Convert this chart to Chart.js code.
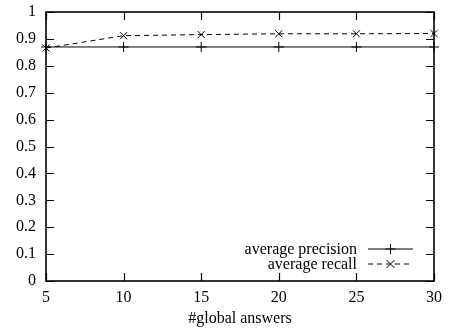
<!DOCTYPE html>
<html>
<head>
<meta charset="utf-8">
<script src="https://cdn.jsdelivr.net/npm/chart.js@4/dist/chart.umd.min.js"></script>
<style>
  html, body { margin: 0; padding: 0; background: #fff; }
  #wrap { width: 451px; height: 334px; }
</style>
</head>
<body>
<div id="wrap"><canvas id="c" width="451" height="334"></canvas></div>
<script>
// Number of global answers considered
const globalAnswers = [5, 10, 15, 20, 25, 30];
// Averages measured for each answer count
const avgPrecision = [0.870, 0.870, 0.870, 0.870, 0.870, 0.870];
const avgRecall = [0.866, 0.912, 0.916, 0.919, 0.919, 0.920];
const seriesNames = ['average precision', 'average recall'];
const xTicks = [5, 10, 15, 20, 25, 30];
const yTicks = [0, 0.1, 0.2, 0.3, 0.4, 0.5, 0.6, 0.7, 0.8, 0.9, 1];
const xTitle = '#global answers';

const FONT = '"Liberation Serif", "DejaVu Serif", serif';
const FS = 16;
Chart.defaults.font.family = FONT;
Chart.defaults.font.size = FS;
Chart.defaults.color = '#000';

// Frame, inward tick marks on all four sides, and a key in the lower right
const framePlugin = {
  id: 'frame',
  afterDatasetsDraw(chart) {
    const { ctx, chartArea: a, scales: { x, y } } = chart;
    const len = 8;
    ctx.save();
    ctx.strokeStyle = '#000';
    ctx.lineWidth = 1.2;
    ctx.beginPath();
    xTicks.forEach(v => {
      const px = Math.round(x.getPixelForValue(v)) + 0.5;
      ctx.moveTo(px, a.bottom); ctx.lineTo(px, a.bottom - len);
      ctx.moveTo(px, a.top); ctx.lineTo(px, a.top + len);
    });
    yTicks.forEach(v => {
      const py = Math.round(y.getPixelForValue(v)) + 0.5;
      ctx.moveTo(a.left, py); ctx.lineTo(a.left + len, py);
      ctx.moveTo(a.right, py); ctx.lineTo(a.right - len, py);
    });
    ctx.stroke();
    ctx.lineWidth = 1.6;
    ctx.strokeRect(a.left, a.top, a.right - a.left, a.bottom - a.top);

    // key
    const textRight = a.right - 77;
    const lineL = a.right - 66, lineR = a.right - 21;
    const mid = (lineL + lineR) / 2;
    const rows = [a.bottom - 32, a.bottom - 17];
    ctx.font = FS + 'px ' + FONT;
    ctx.textAlign = 'right';
    ctx.textBaseline = 'middle';
    ctx.fillStyle = '#000';
    chart.data.datasets.forEach((ds, i) => {
      const ry = rows[i];
      ctx.fillText(ds.label, textRight, ry + 1);
      ctx.lineWidth = 1;
      ctx.setLineDash(ds.borderDash || []);
      ctx.beginPath();
      ctx.moveTo(lineL, ry); ctx.lineTo(lineR, ry);
      ctx.stroke();
      ctx.setLineDash([]);
      ctx.beginPath();
      if (ds.pointStyle === 'cross') {
        ctx.moveTo(mid - 5, ry); ctx.lineTo(mid + 5, ry);
        ctx.moveTo(mid, ry - 5); ctx.lineTo(mid, ry + 5);
      } else {
        ctx.moveTo(mid - 4, ry - 4); ctx.lineTo(mid + 4, ry + 4);
        ctx.moveTo(mid - 4, ry + 4); ctx.lineTo(mid + 4, ry - 4);
      }
      ctx.stroke();
    });
    ctx.restore();
  }
};

new Chart(document.getElementById('c'), {
  type: 'line',
  data: {
    datasets: [
      {
        label: seriesNames[0],
        data: globalAnswers.map((g, i) => ({ x: g, y: avgPrecision[i] })),
        borderColor: '#000', borderWidth: 1,
        pointStyle: 'cross', pointRadius: 5, pointBorderWidth: 1,
        pointBorderColor: '#000', pointBackgroundColor: '#000',
        tension: 0, clip: false
      },
      {
        label: seriesNames[1],
        data: globalAnswers.map((g, i) => ({ x: g, y: avgRecall[i] })),
        borderColor: '#000', borderWidth: 1, borderDash: [5, 4],
        pointStyle: 'crossRot', pointRadius: 5, pointBorderWidth: 1,
        pointBorderColor: '#000', pointBackgroundColor: '#000',
        tension: 0, clip: false
      }
    ]
  },
  options: {
    responsive: false,
    animation: false,
    layout: { padding: { top: 12, right: 17, left: 0, bottom: 0 } },
    plugins: { legend: { display: false }, tooltip: { enabled: false } },
    scales: {
      x: {
        type: 'linear', min: 5, max: 30,
        afterBuildTicks: s => { s.ticks = xTicks.map(v => ({ value: v })); },
        afterFit: s => { s.height = 53; s.paddingLeft = 0; s.paddingRight = 0; },
        grid: { display: false, drawTicks: false },
        border: { display: false },
        ticks: { padding: 7, color: '#000', font: { size: FS } },
        title: { display: true, text: xTitle, color: '#000', font: { size: FS }, padding: { top: 3, bottom: 6 } }
      },
      y: {
        type: 'linear', min: 0, max: 1,
        afterBuildTicks: s => { s.ticks = yTicks.map(v => ({ value: v })); },
        afterFit: s => { s.width = 46; s.paddingTop = 0; s.paddingBottom = 0; },
        grid: { display: false, drawTicks: false },
        border: { display: false },
        ticks: { padding: 10, color: '#000', font: { size: FS }, callback: v => String(Math.round(v * 10) / 10) }
      }
    }
  },
  plugins: [framePlugin]
});
</script>
</body>
</html>
